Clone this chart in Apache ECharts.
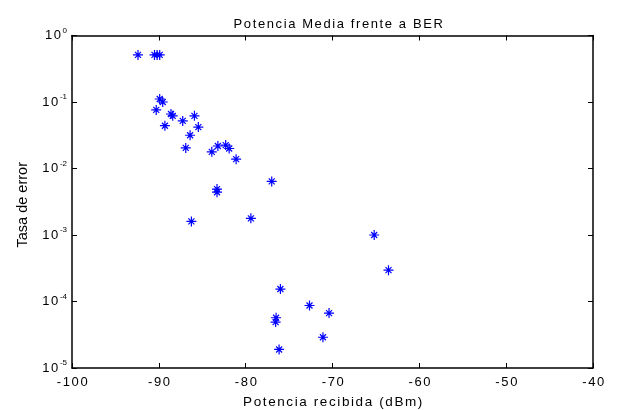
<!DOCTYPE html>
<html>
<head>
<meta charset="utf-8">
<script src="https://cdn.jsdelivr.net/npm/echarts@6/dist/echarts.min.js"></script>
<style>html,body{margin:0;padding:0;background:#fff;}#c{width:620px;height:410px;}</style>
</head>
<body>
<div id="c"></div>
<script>
// Received power (dBm)
const potencia = [-92.4, -90.5, -90.2, -89.9, -89.9, -89.55, -90.3, -88.6, -88.4, -89.3, -87.25, -85.9, -85.45, -86.4, -86.9, -83.9, -83.2, -82.3, -81.9, -81.1, -77.0, -83.3, -83.3, -86.25, -79.4, -65.2, -63.55, -76.0, -72.65, -70.4, -76.5, -76.55, -71.1, -76.15];
// Bit error rate
const ber = [0.51, 0.51, 0.51, 0.51, 0.111, 0.1, 0.076, 0.066, 0.062, 0.044, 0.052, 0.062, 0.042, 0.0316, 0.0204, 0.0178, 0.0218, 0.0225, 0.02, 0.0138, 0.0064, 0.0049, 0.0044, 0.0016, 0.00178, 0.001, 0.000296, 0.000154, 0.000087, 0.000067, 0.000057, 0.000049, 0.000029, 0.000019];
const xTicks = [-100, -90, -80, -70, -60, -50, -40];
const yExponents = [0, -1, -2, -3, -4, -5];

// MATLAB-like wide glyph spacing for 13px text
(function () {
  const P = CanvasRenderingContext2D.prototype;
  if (!('letterSpacing' in P)) return;
  const set = function (ctx) {
    const m = /(\d+(?:\.\d+)?)px/.exec(ctx.font || '');
    const s = m ? parseFloat(m[1]) : 0;
    ctx.letterSpacing = (s >= 12.9 && s <= 13.6) ? '1.6px' : '0px';
  };
  const f = P.fillText, st = P.strokeText, ms = P.measureText;
  P.fillText = function () { set(this); return f.apply(this, arguments); };
  P.strokeText = function () { set(this); return st.apply(this, arguments); };
  P.measureText = function () { set(this); return ms.apply(this, arguments); };
})();

const font = 'Liberation Sans, Arial, sans-serif';
const chart = echarts.init(document.getElementById('c'), null, {renderer: 'canvas'});
const axisLine = {show: true, lineStyle: {color: '#000', width: 1.5}};
const tick = {show: true, inside: true, length: 5, lineStyle: {color: '#000', width: 1}};
chart.setOption({
  animation: false,
  backgroundColor: '#fff',
  title: {
    text: 'Potencia Media frente a BER',
    left: 334, top: 12, textAlign: 'center',
    textStyle: {fontFamily: font, fontSize: 13, fontWeight: 'normal', color: '#000'}
  },
  grid: {left: 72, right: 27, top: 35.5, bottom: 42, containLabel: false, outerBoundsMode: 'none'},
  xAxis: [{
    type: 'value', min: xTicks[0], max: xTicks[xTicks.length - 1], interval: 10,
    axisLine: axisLine, axisTick: tick, splitLine: {show: false},
    axisLabel: {fontFamily: font, fontSize: 13, color: '#000', margin: 7, padding: [0, 0, 0, 2]},
    name: 'Potencia recibida (dBm)', nameLocation: 'middle', nameGap: 26,
    nameTextStyle: {fontFamily: font, fontSize: 13.5, color: '#000', padding: [0, 0, 0, 2]}
  }, {
    type: 'value', position: 'top', min: xTicks[0], max: xTicks[xTicks.length - 1], interval: 10,
    axisLine: axisLine, axisTick: tick, axisLabel: {show: false}, splitLine: {show: false}
  }],
  yAxis: [{
    type: 'log', logBase: 10, min: Math.pow(10, yExponents[yExponents.length - 1]), max: Math.pow(10, yExponents[0]),
    axisLine: axisLine, axisTick: tick, splitLine: {show: false}, minorTick: {show: false},
    axisLabel: {
      margin: 5,
      formatter: function (v) { return '{b|10}{e|' + Math.round(Math.log10(v)) + '}'; },
      rich: {
        b: {fontFamily: font, fontSize: 13, color: '#000'},
        e: {fontFamily: font, fontSize: 8, color: '#000', padding: [0, 0, 10, 0]}
      }
    },
    name: 'Tasa de error', nameLocation: 'middle', nameGap: 42, nameRotate: 90,
    nameTextStyle: {fontFamily: font, fontSize: 14.5, color: '#000', padding: [0, 6, 0, 0]}
  }, {
    type: 'log', logBase: 10, position: 'right', min: Math.pow(10, yExponents[yExponents.length - 1]), max: Math.pow(10, yExponents[0]),
    axisLine: axisLine, axisTick: tick, axisLabel: {show: false}, splitLine: {show: false}
  }],
  series: [{
    type: 'scatter',
    data: potencia.map((x, i) => [x, ber[i]]),
    symbol: 'path://M0,-5L0,5M-5,0L5,0M-3,-3L3,3M-3,3L3,-3',
    symbolSize: 10,
    itemStyle: {color: 'rgba(0,0,0,0)', borderColor: '#0000ff', borderWidth: 1.2, opacity: 1},
    emphasis: {disabled: true}
  }]
});
</script>
</body>
</html>
